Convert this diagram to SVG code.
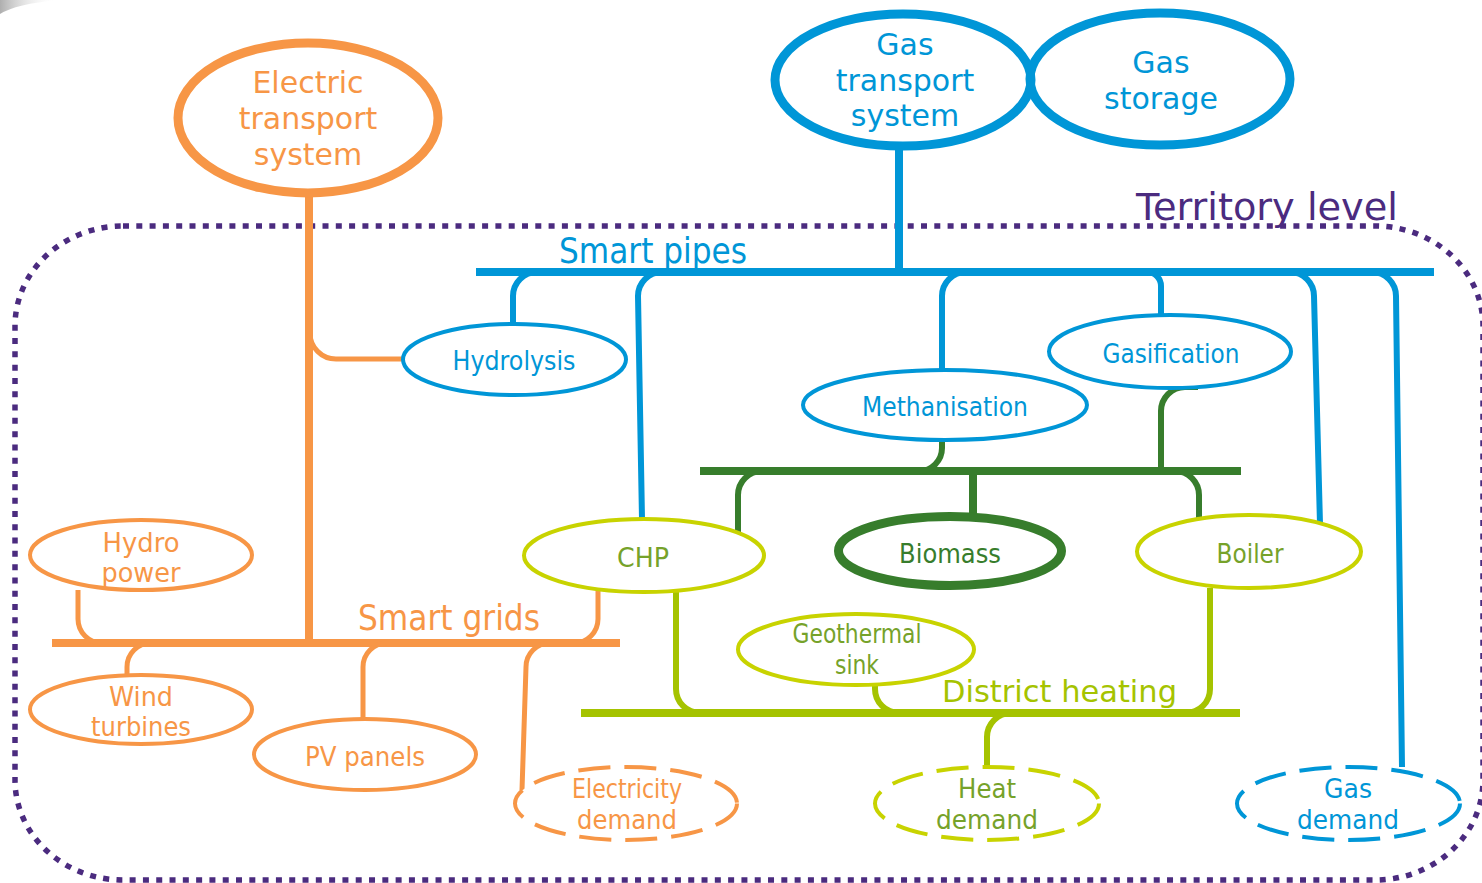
<svg xmlns="http://www.w3.org/2000/svg" width="1482" height="883" viewBox="0 0 1482 883">
<style>
text{font-family:"DejaVu Sans","Liberation Sans",sans-serif;text-anchor:middle}
.or{fill:#F79646}.bl{fill:#0096D7}.dg{fill:#377D2C}.lg{fill:#76A22A}.lm{fill:#A5C300}.pu{fill:#4B2B7F}
.n{fill:#fff}
.eor{stroke:#F79646}.ebl{stroke:#0096D7}.edg{stroke:#377D2C}.elm{stroke:#C8D300}
.w4{stroke-width:4}.w9{stroke-width:9}
.dash{stroke-dasharray:32 14}
.c{fill:none;stroke-linecap:butt}
.co{stroke:#F79646}.cb{stroke:#0096D7}.cg{stroke:#377D2C}.cl{stroke:#A5C300}
.f26{font-size:26px}.f30{font-size:30px}.f34{font-size:35px}
</style>
<defs>
<linearGradient id="sm" x1="0" y1="0" x2="1" y2="0">
<stop offset="0" stop-color="#9a9a9a" stop-opacity="0.8"/>
<stop offset="1" stop-color="#ffffff" stop-opacity="0"/>
</linearGradient>
</defs>
<rect width="1482" height="883" fill="#fff"/>
<path d="M0 14 Q 16 4 58 0 L 0 0 Z" fill="url(#sm)"/>

<g id="territory">
<rect x="15" y="226" width="1468" height="654" rx="108" ry="100" fill="none" stroke="#4B2B7F" stroke-width="5.5" stroke-dasharray="6 7.3"/>
<text class="pu" x="1136" y="220" font-size="37" style="text-anchor:start" textLength="262" lengthAdjust="spacingAndGlyphs">Territory level</text>
</g>

<g id="connectors" class="c">
<!-- orange -->
<path class="co" stroke-width="8" d="M309 196 L309 643"/>
<path class="co" stroke-width="8" d="M52 643 L620 643"/>
<path class="co" stroke-width="5" d="M310 333 A26 26 0 0 0 336 359 L403 359"/>
<path class="co" stroke-width="5" d="M78 590 L78 619 A24 24 0 0 0 102 643"/>
<path class="co" stroke-width="5" d="M598 591 L598 619 A24 24 0 0 1 574 643"/>
<path class="co" stroke-width="5" d="M151 643 A24 24 0 0 0 127 667 L127 675"/>
<path class="co" stroke-width="5" d="M387 643 A24 24 0 0 0 363 667 L363 719"/>
<path class="co" stroke-width="5" d="M550 643 A24 24 0 0 0 526 667 L522 790"/>
<!-- blue -->
<path class="cb" stroke-width="8" d="M899 148 L899 272"/>
<path class="cb" stroke-width="8" d="M476 272 L1434 272"/>
<path class="cb" stroke-width="6" d="M537 272 A24 24 0 0 0 513 296 L513 324"/>
<path class="cb" stroke-width="6" d="M662 272 A24 24 0 0 0 638 296 L642 519"/>
<path class="cb" stroke-width="6" d="M966 272 A24 24 0 0 0 942 296 L942 370"/>
<path class="cb" stroke-width="6" d="M1147 272 A14 14 0 0 1 1161 286 L1161 316"/>
<path class="cb" stroke-width="6" d="M1290 272 A24 24 0 0 1 1314 296 L1320 524"/>
<path class="cb" stroke-width="6" d="M1372 272 A24 24 0 0 1 1396 296 L1402 767"/>
<!-- dark green -->
<path class="cg" stroke-width="8" d="M700 471 L1241 471"/>
<path class="cg" stroke-width="6" d="M942 439 L942 448 A23 23 0 0 1 919 471"/>
<path class="cg" stroke-width="6" d="M1198 387 L1185 387 A24 24 0 0 0 1161 411 L1161 471"/>
<path class="cg" stroke-width="6" d="M762 471 A24 24 0 0 0 738 495 L738 537"/>
<path class="cg" stroke-width="8" d="M973 471 L973 514"/>
<path class="cg" stroke-width="6" d="M1175 471 A24 24 0 0 1 1199 495 L1199 520"/>
<!-- lime -->
<path class="cl" stroke-width="8" d="M581 713 L1240 713"/>
<path class="cl" stroke-width="6" d="M676 591 L676 689 A24 24 0 0 0 700 713"/>
<path class="cl" stroke-width="6" d="M875 681 L875 689 A24 24 0 0 0 899 713"/>
<path class="cl" stroke-width="6" d="M1210 588 L1210 689 A24 24 0 0 1 1186 713"/>
<path class="cl" stroke-width="6" d="M1011 713 A24 24 0 0 0 987 737 L987 767"/>
</g>

<g id="labels">
<text class="bl f34" x="559" y="263" style="text-anchor:start" textLength="188" lengthAdjust="spacingAndGlyphs">Smart pipes</text>
<text class="or f34" x="358" y="630" style="text-anchor:start" textLength="182" lengthAdjust="spacingAndGlyphs">Smart grids</text>
<text class="lm" font-size="31" x="942" y="702" style="text-anchor:start" textLength="235" lengthAdjust="spacingAndGlyphs">District heating</text>
</g>

<g id="electric-transport">
<ellipse class="n eor w9" cx="308" cy="118" rx="130" ry="75"/>
<text class="or f30" x="308" y="93">Electric</text>
<text class="or f30" x="308" y="129">transport</text>
<text class="or f30" x="308" y="165">system</text>
</g>
<g id="gas-transport">
<ellipse fill="none" class="ebl w9" cx="903" cy="80" rx="128" ry="66"/>
<text class="bl f30" x="905" y="55">Gas</text>
<text class="bl f30" x="905" y="91">transport</text>
<text class="bl f30" x="905" y="126">system</text>
</g>
<g id="gas-storage">
<ellipse fill="none" class="ebl w9" cx="1160" cy="79" rx="130" ry="66"/>
<text class="bl f30" x="1161" y="73">Gas</text>
<text class="bl f30" x="1161" y="109">storage</text>
</g>
<g id="hydrolysis">
<ellipse class="n ebl w4" cx="514.5" cy="359.5" rx="111.5" ry="35.5"/>
<text class="bl f26" x="514" y="370" textLength="123" lengthAdjust="spacingAndGlyphs">Hydrolysis</text>
</g>
<g id="methanisation">
<ellipse class="n ebl w4" cx="945" cy="405" rx="142" ry="35"/>
<text class="bl f26" x="945" y="416" textLength="166" lengthAdjust="spacingAndGlyphs">Methanisation</text>
</g>
<g id="gasification">
<ellipse class="n ebl w4" cx="1170" cy="351.5" rx="121" ry="36.5"/>
<text class="bl f26" x="1171" y="363" textLength="137" lengthAdjust="spacingAndGlyphs">Gasification</text>
</g>
<g id="chp">
<ellipse class="n elm w4" cx="644" cy="555.5" rx="120" ry="36.5"/>
<text class="lg f26" x="643" y="567" textLength="52" lengthAdjust="spacingAndGlyphs">CHP</text>
</g>
<g id="biomass">
<ellipse class="n edg w9" cx="950" cy="551" rx="111.5" ry="34.5"/>
<text class="dg f26" x="950" y="563" textLength="102" lengthAdjust="spacingAndGlyphs">Biomass</text>
</g>
<g id="boiler">
<ellipse class="n elm w4" cx="1249" cy="551.5" rx="112" ry="36.5"/>
<text class="lg f26" x="1250" y="563" textLength="67" lengthAdjust="spacingAndGlyphs">Boiler</text>
</g>
<g id="geothermal-sink">
<ellipse class="n elm w4" cx="856" cy="649.5" rx="118" ry="35.5"/>
<text class="lg f26" x="857" y="643" textLength="129" lengthAdjust="spacingAndGlyphs">Geothermal</text>
<text class="lg f26" x="857" y="674" textLength="44" lengthAdjust="spacingAndGlyphs">sink</text>
</g>
<g id="hydro-power">
<ellipse class="n eor w4" cx="141" cy="555" rx="111" ry="35"/>
<text class="or f26" x="141" y="552" textLength="77" lengthAdjust="spacingAndGlyphs">Hydro</text>
<text class="or f26" x="141" y="582" textLength="79" lengthAdjust="spacingAndGlyphs">power</text>
</g>
<g id="wind-turbines">
<ellipse class="n eor w4" cx="141" cy="709.5" rx="111" ry="34.5"/>
<text class="or f26" x="141" y="706" textLength="64" lengthAdjust="spacingAndGlyphs">Wind</text>
<text class="or f26" x="141" y="736" textLength="100" lengthAdjust="spacingAndGlyphs">turbines</text>
</g>
<g id="pv-panels">
<ellipse class="n eor w4" cx="365" cy="754.5" rx="111" ry="35.5"/>
<text class="or f26" x="365" y="766" textLength="120" lengthAdjust="spacingAndGlyphs">PV panels</text>
</g>
<g id="electricity-demand">
<ellipse class="n eor w4 dash" cx="626" cy="803.5" rx="111" ry="36.5"/>
<text class="or f26" x="627" y="798" textLength="110" lengthAdjust="spacingAndGlyphs">Electricity</text>
<text class="or f26" x="627" y="829" textLength="100" lengthAdjust="spacingAndGlyphs">demand</text>
</g>
<g id="heat-demand">
<ellipse class="n elm w4 dash" cx="987" cy="803.5" rx="112" ry="36.5"/>
<text class="lg f26" x="987" y="798" textLength="58" lengthAdjust="spacingAndGlyphs">Heat</text>
<text class="lg f26" x="987" y="829" textLength="102" lengthAdjust="spacingAndGlyphs">demand</text>
</g>
<g id="gas-demand">
<ellipse class="n ebl w4 dash" cx="1348.5" cy="803.5" rx="111.5" ry="36.5"/>
<text class="bl f26" x="1348" y="798" textLength="48" lengthAdjust="spacingAndGlyphs">Gas</text>
<text class="bl f26" x="1348" y="829" textLength="102" lengthAdjust="spacingAndGlyphs">demand</text>
</g>
</svg>
